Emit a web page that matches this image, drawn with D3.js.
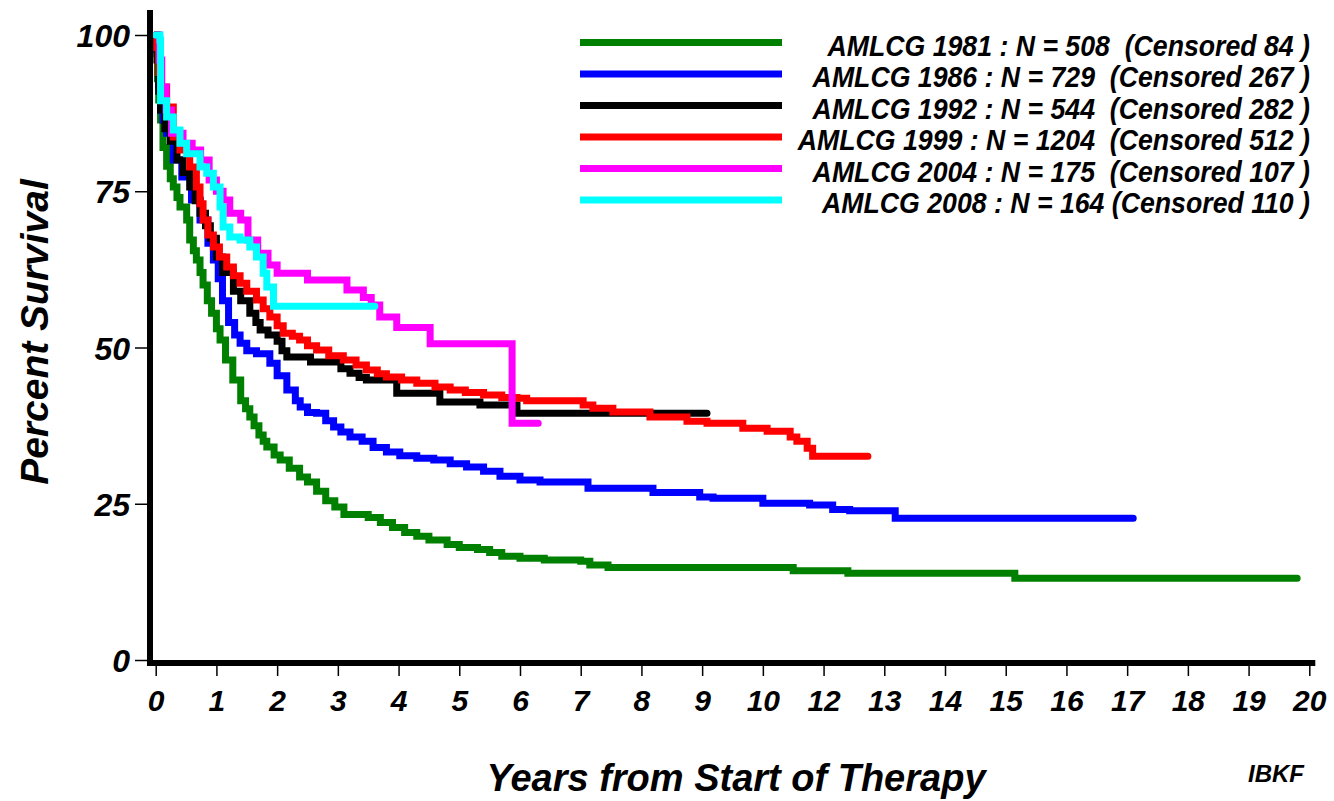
<!DOCTYPE html>
<html>
<head>
<meta charset="utf-8">
<script src="https://cdn.jsdelivr.net/npm/d3@7"></script>
<style>
  body { margin: 0; background: #fff; }
  text { font-family: "Liberation Sans", Arial, sans-serif; font-weight: bold; font-style: italic; fill: #000; }
</style>
</head>
<body>
<script>
// Kaplan-Meier curves, [years, percent]
var amlcg1981 = [[0,100],[0.02,97],[0.03,93],[0.05,89.6],[0.08,86.4],[0.12,82],[0.18,79],[0.24,77],[0.29,75.7],[0.35,74],[0.4,72.5],[0.51,70.4],[0.56,67.2],[0.62,65.5],[0.67,64],[0.73,62],[0.78,60],[0.85,57.5],[0.92,55.5],[1.0,53],[1.06,51.2],[1.15,48],[1.27,44.8],[1.4,41.5],[1.48,40.2],[1.55,38.9],[1.62,37.5],[1.7,36],[1.77,35],[1.83,34.1],[1.95,32.8],[2.05,32],[2.2,30.7],[2.37,29.3],[2.5,28.5],[2.65,27],[2.8,25.5],[2.95,24.5],[3.1,23.3],[3.5,22.8],[3.7,22],[3.9,21.2],[4.1,20.4],[4.3,19.8],[4.5,19.2],[4.8,18.5],[5.0,18],[5.3,17.7],[5.5,17.2],[5.7,16.6],[6.0,16.3],[6.4,16],[7.0,15.8],[7.15,15.2],[7.45,14.8],[10.5,14.3],[11.4,13.9],[14.15,13.1],[18.8,13.1]];
var amlcg1986 = [[0,100],[0.02,97.6],[0.05,92],[0.08,88],[0.12,86.4],[0.18,84.3],[0.29,80],[0.43,77.3],[0.59,73.6],[0.73,70.4],[0.86,66.7],[0.95,64],[1.03,61],[1.1,57.5],[1.2,54],[1.3,52],[1.39,50.7],[1.5,49.5],[1.66,49],[1.88,47.5],[2.0,45.5],[2.16,43.2],[2.3,41.5],[2.38,40.5],[2.5,39.6],[2.65,39.5],[2.8,38.3],[2.93,37.3],[3.05,36.5],[3.2,35.7],[3.4,35],[3.58,34],[3.8,33.3],[4.02,32.7],[4.3,32.3],[4.58,32],[4.85,31.4],[5.12,30.9],[5.4,30.2],[5.67,29.4],[6.0,28.8],[6.33,28.5],[7.12,27.5],[8.19,26.8],[8.96,26.1],[9.18,25.9],[10.0,25.1],[10.77,24.8],[11.15,24.1],[11.43,23.9],[12.18,22.7],[16.1,22.7]];
var amlcg1992 = [[0,100],[0.02,96],[0.05,91],[0.08,88],[0.15,85],[0.24,83],[0.35,80],[0.45,78],[0.56,75.7],[0.65,73.5],[0.73,71.5],[0.82,69.5],[0.9,67.5],[1.0,64.5],[1.1,62],[1.28,59],[1.4,57.5],[1.55,55.5],[1.65,54],[1.72,52.8],[1.85,52],[2.0,51],[2.08,49.5],[2.16,48.5],[2.55,47.7],[3.05,46.6],[3.2,45.9],[3.35,45.2],[3.47,44.8],[3.97,42.7],[4.68,41.3],[5.34,40.8],[5.95,39.5],[9.08,39.5]];
var amlcg1999 = [[0,100],[0.02,98],[0.05,94],[0.08,91.7],[0.18,88.5],[0.29,83.7],[0.4,81.6],[0.56,78.9],[0.67,75.7],[0.73,73],[0.78,70.4],[0.86,68],[0.95,66.1],[1.05,64.5],[1.17,62.9],[1.28,61.5],[1.39,60.3],[1.5,59],[1.66,57.6],[1.77,56.2],[1.88,54.9],[2.0,53.5],[2.1,52.3],[2.25,51.8],[2.37,51.2],[2.5,50.3],[2.65,49.6],[2.85,48.7],[3.09,48],[3.3,47.2],[3.47,46.4],[3.65,45.8],[3.8,45.3],[4.05,44.8],[4.3,44.3],[4.6,43.7],[4.85,43.2],[5.1,42.8],[5.4,42.4],[5.7,42],[5.95,41.9],[6.11,41.5],[7.04,40.8],[7.2,40.3],[7.53,39.7],[8.14,38.9],[8.75,38.2],[9.08,37.9],[9.67,37.1],[10.07,36.6],[10.45,35.7],[10.56,35],[10.73,33.9],[10.82,32.6],[11.73,32.6]];
var amlcg2004 = [[0,100],[0.04,100],[0.06,96],[0.1,91.7],[0.17,88],[0.26,84.3],[0.45,82.7],[0.6,81.6],[0.74,80],[0.88,76.8],[1.0,75],[1.11,73.6],[1.22,71.5],[1.4,70.4],[1.52,67.2],[1.68,65.1],[1.85,63.2],[2.0,61.9],[2.5,60.8],[3.15,59.2],[3.42,58],[3.55,56.8],[3.69,54.9],[3.97,53.2],[4.52,50.6],[5.87,37.9],[6.3,37.9]];
var amlcg2008 = [[0,100],[0.07,99.2],[0.08,89.5],[0.18,86.9],[0.29,84.8],[0.4,82.7],[0.51,81],[0.73,78.9],[0.84,77.9],[0.95,75.7],[1.06,72.5],[1.11,69.3],[1.22,67.7],[1.39,67.2],[1.55,66.1],[1.66,64.5],[1.77,61.9],[1.83,59.7],[1.94,56.6],[3.61,56.6]];

var seriesData = [amlcg1981, amlcg1986, amlcg1992, amlcg1999, amlcg2004, amlcg2008];
var seriesColors = ["#008000", "#0000ff", "#000000", "#ff0000", "#ff00ff", "#00ffff"];
var legendLabels = [
  "AMLCG 1981 : N = 508  (Censored 84 )",
  "AMLCG 1986 : N = 729  (Censored 267 )",
  "AMLCG 1992 : N = 544  (Censored 282 )",
  "AMLCG 1999 : N = 1204  (Censored 512 )",
  "AMLCG 2004 : N = 175  (Censored 107 )",
  "AMLCG 2008 : N = 164 (Censored 110 )"
];
var yTicks = [0, 25, 50, 75, 100];
// the original axis skips "11"
var xTickLabels = ["0","1","2","3","4","5","6","7","8","9","10","12","13","14","15","16","17","18","19","20"];

var svg = d3.select("body").append("svg")
  .attr("width", 1334)
  .attr("height", 801);

var x = d3.scaleLinear().domain([0, 19]).range([155.7, 1309.3]);
var y = d3.scaleLinear().domain([0, 104]).range([660, 10]);

// curves
var line = d3.line()
  .x(function(d){ return x(d[0]); })
  .y(function(d){ return y(d[1]); })
  .curve(d3.curveStepAfter);

svg.selectAll("path.km")
  .data(seriesData)
  .enter().append("path")
  .attr("class", "km")
  .attr("d", line)
  .attr("fill", "none")
  .attr("stroke", function(d, i){ return seriesColors[i]; })
  .attr("stroke-width", 7)
  .attr("stroke-linecap", "round");

// y axis
var yAxis = svg.append("g")
  .attr("transform", "translate(147,0)")
  .call(d3.axisLeft(y).tickValues(yTicks).tickSize(12).tickPadding(5).tickSizeOuter(0));
yAxis.select(".domain").remove();
yAxis.selectAll(".tick line").attr("stroke", "#000").attr("stroke-width", 1.5);
yAxis.selectAll(".tick text")
  .attr("font-size", 32)
  .attr("dy", "0.36em")
  .style("font-family", null);

// x axis
var xAxis = svg.append("g")
  .attr("transform", "translate(0,666)")
  .call(d3.axisBottom(x).tickValues(d3.range(0, 20)).tickSize(10).tickPadding(14).tickSizeOuter(0)
    .tickFormat(function(d){ return xTickLabels[d]; }));
xAxis.select(".domain").remove();
xAxis.selectAll(".tick line").attr("stroke", "#000").attr("stroke-width", 1.5);
xAxis.selectAll(".tick text")
  .attr("font-size", 30)
  .style("font-family", null);

// thick axis lines
svg.append("line")
  .attr("x1", 150).attr("x2", 150)
  .attr("y1", y(104)).attr("y2", 666)
  .attr("stroke", "#000").attr("stroke-width", 6);
svg.append("line")
  .attr("x1", 147).attr("x2", x(19) + 6)
  .attr("y1", 663).attr("y2", 663)
  .attr("stroke", "#000").attr("stroke-width", 6);

// titles
svg.append("text")
  .attr("transform", "translate(48,332) rotate(-90)")
  .attr("text-anchor", "middle")
  .attr("font-size", 39)
  .text("Percent Survival");

svg.append("text")
  .attr("x", 736).attr("y", 791)
  .attr("text-anchor", "middle")
  .attr("font-size", 38)
  .text("Years from Start of Therapy");

svg.append("text")
  .attr("x", 1276).attr("y", 782)
  .attr("text-anchor", "middle")
  .attr("font-size", 24)
  .text("IBKF");

// legend
var legend = svg.selectAll("g.leg")
  .data(legendLabels)
  .enter().append("g")
  .attr("class", "leg")
  .attr("transform", function(d, i){ return "translate(0," + (42.5 + i * 31.5) + ")"; });

legend.append("line")
  .attr("x1", 580).attr("x2", 782)
  .attr("y1", 0).attr("y2", 0)
  .attr("stroke", function(d, i){ return seriesColors[i]; })
  .attr("stroke-width", 7);

legend.append("text")
  .attr("transform", "translate(1310,13) scale(0.92,1)")
  .attr("text-anchor", "end")
  .attr("font-size", 29)
  .style("white-space", "pre")
  .text(function(d){ return d; });
</script>
</body>
</html>
